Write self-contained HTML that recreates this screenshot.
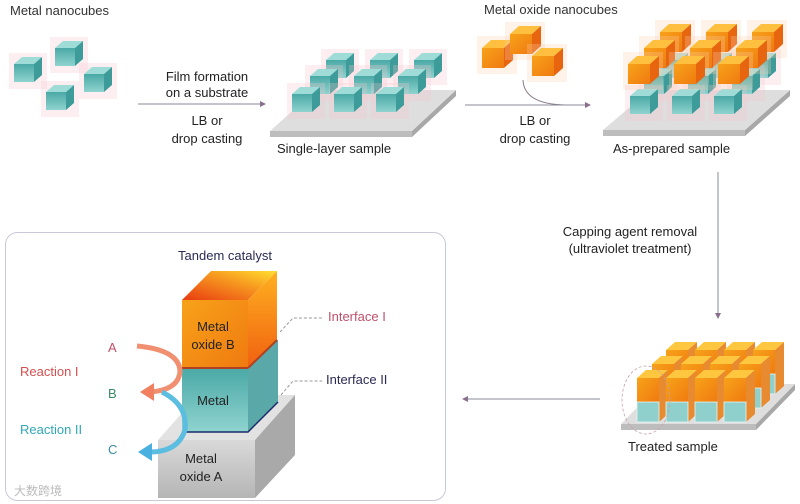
<!DOCTYPE html>
<html><head><meta charset="utf-8"><style>
html,body{margin:0;padding:0;background:#fff}
svg{display:block;font-family:"Liberation Sans","Noto Sans CJK SC",sans-serif}
</style></head><body>
<svg width="800" height="504" viewBox="0 0 800 504" xmlns="http://www.w3.org/2000/svg">
<defs>
<linearGradient id="tf" x1="0" y1="0" x2="0" y2="1"><stop offset="0" stop-color="#4aa9a6"/><stop offset="1" stop-color="#8fd3cf"/></linearGradient>
<linearGradient id="of" x1="0" y1="0" x2="1" y2="1"><stop offset="0" stop-color="#f7a21a"/><stop offset="1" stop-color="#f07a10"/></linearGradient>
<linearGradient id="ot" x1="0" y1="1" x2="1" y2="0"><stop offset="0" stop-color="#e83a10"/><stop offset="0.6" stop-color="#f79a20"/><stop offset="1" stop-color="#ffe030"/></linearGradient>
<linearGradient id="os" x1="0" y1="1" x2="0" y2="0"><stop offset="0" stop-color="#f06010"/><stop offset="1" stop-color="#ffb020"/></linearGradient>
<linearGradient id="gb" x1="0" y1="0" x2="0" y2="1"><stop offset="0" stop-color="#d9d9d9"/><stop offset="1" stop-color="#b5b5b5"/></linearGradient>
<g id="tc">
<rect x="-5" y="-11" width="38" height="36" fill="#f7c6cc" opacity="0.28"/>
<polygon points="0,0 8,-7 28,-7 20,0" fill="#9fdcd8"/>
<polygon points="20,0 28,-7 28,11 20,18" fill="#3d9c99"/>
<rect x="0" y="0" width="20" height="18" fill="url(#tf)"/>
</g>
<g id="oc">
<rect x="-5" y="-12" width="40" height="38" fill="#fbd0b0" opacity="0.28"/>
<polygon points="0,0 9,-8 31,-8 22,0" fill="#ffc040"/>
<polygon points="22,0 31,-8 31,12 22,20" fill="#e86510"/>
<rect x="0" y="0" width="22" height="20" fill="url(#of)"/>
</g>
<g id="st">
<polygon points="0,0 9,-8 31,-8 22,0" fill="#ffc640"/>
<polygon points="22,0 31,-8 31,36 22,44" fill="#e88a30"/>
<rect x="0" y="0" width="22" height="24" fill="url(#of)"/>
<rect x="0" y="24" width="22" height="20" fill="#8fd0cc"/>
<rect x="0" y="24" width="22" height="20" fill="none" stroke="#e8f6f6" stroke-width="0.8"/>
</g>
<marker id="ah" markerWidth="6" markerHeight="6" refX="5" refY="3" orient="auto"><path d="M0,0 L6,3 L0,6 z" fill="#8a6f8f"/></marker>
</defs>

<text x="10" y="15" font-size="13" fill="#333">Metal nanocubes</text>
<use href="#tc" x="14" y="64"/>
<use href="#tc" x="55" y="48"/>
<use href="#tc" x="84" y="74"/>
<use href="#tc" x="46" y="92"/>

<line x1="138" y1="104" x2="265" y2="104" stroke="#8a8a9a" stroke-width="1" marker-end="url(#ah)"/>
<g font-size="13" fill="#222" text-anchor="middle">
<text x="207" y="81">Film formation</text>
<text x="207" y="97">on a substrate</text>
<text x="207" y="125">LB or</text>
<text x="207" y="143">drop casting</text>
</g>

<polygon points="270,131 412,131 412,137 270,137" fill="#bdbdbd"/>
<polygon points="412,131 456,90 456,96 412,137" fill="#a8a8a8"/>
<polygon points="270,131 412,131 456,90 316,90" fill="#dedede"/>
<use href="#tc" x="326" y="60"/><use href="#tc" x="370" y="60"/><use href="#tc" x="414" y="60"/>
<use href="#tc" x="310" y="76"/><use href="#tc" x="354" y="76"/><use href="#tc" x="398" y="76"/>
<use href="#tc" x="292" y="94"/><use href="#tc" x="334" y="94"/><use href="#tc" x="376" y="94"/>
<text x="277" y="153" font-size="13" fill="#222">Single-layer sample</text>

<text x="484" y="14" font-size="13" fill="#333">Metal oxide nanocubes</text>
<use href="#oc" x="482" y="48"/>
<use href="#oc" x="510" y="34"/>
<use href="#oc" x="532" y="56"/>
<path d="M523,80 Q524,104 565,105" fill="none" stroke="#8a7a8a" stroke-width="1"/>
<line x1="465" y1="105" x2="590" y2="105" stroke="#8a8a9a" stroke-width="1" marker-end="url(#ah)"/>
<g font-size="13" fill="#222" text-anchor="middle">
<text x="535" y="125">LB or</text>
<text x="535" y="143">drop casting</text>
</g>

<polygon points="603,130 745,130 745,136 603,136" fill="#bdbdbd"/>
<polygon points="745,130 790,90 790,96 745,136" fill="#a8a8a8"/>
<polygon points="603,130 745,130 790,90 650,90" fill="#dedede"/>
<use href="#tc" x="660" y="60"/><use href="#tc" x="704" y="60"/><use href="#tc" x="748" y="60"/>
<use href="#tc" x="644" y="76"/><use href="#tc" x="688" y="76"/><use href="#tc" x="732" y="76"/>
<use href="#tc" x="630" y="96"/><use href="#tc" x="672" y="96"/><use href="#tc" x="714" y="96"/>
<use href="#oc" x="660" y="32"/><use href="#oc" x="706" y="32"/><use href="#oc" x="752" y="32"/>
<use href="#oc" x="644" y="48"/><use href="#oc" x="690" y="48"/><use href="#oc" x="736" y="48"/>
<use href="#oc" x="628" y="64"/><use href="#oc" x="674" y="64"/><use href="#oc" x="718" y="64"/>
<text x="613" y="153" font-size="13" fill="#222">As-prepared sample</text>

<line x1="718" y1="172" x2="718" y2="318" stroke="#8a8a9a" stroke-width="1" marker-end="url(#ah)"/>
<g font-size="13" fill="#222" text-anchor="middle">
<text x="630" y="236">Capping agent removal</text>
<text x="630" y="253">(ultraviolet treatment)</text>
</g>

<polygon points="621,424 756,424 756,430 621,430" fill="#bdbdbd"/>
<polygon points="756,424 795,384 795,390 756,430" fill="#a8a8a8"/>
<polygon points="621,424 756,424 795,384 660,384" fill="#dedede"/>
<use href="#st" x="666" y="350"/><use href="#st" x="695" y="350"/><use href="#st" x="724" y="350"/><use href="#st" x="753" y="350"/>
<use href="#st" x="652" y="364"/><use href="#st" x="681" y="364"/><use href="#st" x="710" y="364"/><use href="#st" x="739" y="364"/>
<use href="#st" x="637" y="378"/><use href="#st" x="666" y="378"/><use href="#st" x="695" y="378"/><use href="#st" x="724" y="378"/>
<ellipse cx="646" cy="400" rx="24" ry="34" fill="none" stroke="#c8a0a8" stroke-width="0.8" stroke-dasharray="3,2"/>
<text x="628" y="451" font-size="13" fill="#222">Treated sample</text>

<line x1="600" y1="399" x2="463" y2="399" stroke="#8a8a9a" stroke-width="1" marker-end="url(#ah)"/>

<rect x="5.5" y="232.5" width="440" height="268" rx="12" fill="#fff" stroke="#c8c8d8" stroke-width="1"/>
<text x="225" y="260" font-size="13" fill="#2a2a55" text-anchor="middle">Tandem catalyst</text>
<polygon points="158,440 255,440 295,395 198,395" fill="#e2e2e2"/>
<polygon points="255,440 295,395 295,455 255,498" fill="#a9a9a9"/>
<rect x="158" y="440" width="97" height="58" fill="url(#gb)"/>
<polygon points="182,368 248,368 278,340 278,402 248,432 182,432" fill="#6fb8b6"/>
<polygon points="248,368 278,340 278,402 248,432" fill="#5aa9a8"/>
<rect x="182" y="368" width="66" height="64" fill="url(#tf)"/>
<polyline points="182,432 248,432 278,402" fill="none" stroke="#1a2a6a" stroke-width="1.5"/>
<polygon points="182,300 248,300 277,271 211,271" fill="url(#ot)"/>
<polygon points="248,300 277,271 277,340 248,368" fill="url(#os)"/>
<rect x="182" y="300" width="66" height="68" fill="url(#of)"/>
<line x1="182" y1="368" x2="248" y2="368" stroke="#b04020" stroke-width="2"/>
<line x1="248" y1="368" x2="277" y2="340" stroke="#b04020" stroke-width="2"/>
<g font-size="13" fill="#222" text-anchor="middle">
<text x="213" y="331">Metal</text><text x="213" y="349">oxide B</text>
<text x="213" y="405">Metal</text>
<text x="201" y="463">Metal</text><text x="201" y="481">oxide A</text>
</g>
<polyline points="280,332 293,318 322,318" fill="none" stroke="#999" stroke-width="1" stroke-dasharray="3,2"/>
<polyline points="281,395 293,381 322,381" fill="none" stroke="#999" stroke-width="1" stroke-dasharray="3,2"/>
<text x="328" y="321" font-size="13" fill="#c0506a">Interface I</text>
<text x="326" y="384" font-size="13" fill="#2a2a55">Interface II</text>
<text x="108" y="352" font-size="13" fill="#c0506a">A</text>
<text x="20" y="376" font-size="13" fill="#d45050">Reaction I</text>
<text x="108" y="398" font-size="13" fill="#3a8a6a">B</text>
<text x="20" y="434" font-size="13" fill="#30a8b8">Reaction II</text>
<text x="108" y="454" font-size="13" fill="#3a8aa0">C</text>
<path d="M137,346 Q180,350 180,372 Q178,390 150,392" fill="none" stroke="#f09070" stroke-width="5"/>
<polygon points="140,392 154,383 154,401" fill="#f08060"/>
<path d="M162,392 Q188,405 185,430 Q178,452 150,452" fill="none" stroke="#5bbde0" stroke-width="5"/>
<polygon points="138,452 152,443 152,461" fill="#4ab0e0"/>
<text x="14" y="495" font-size="12" fill="#bbb">大数跨境</text>
</svg>
</body></html>
